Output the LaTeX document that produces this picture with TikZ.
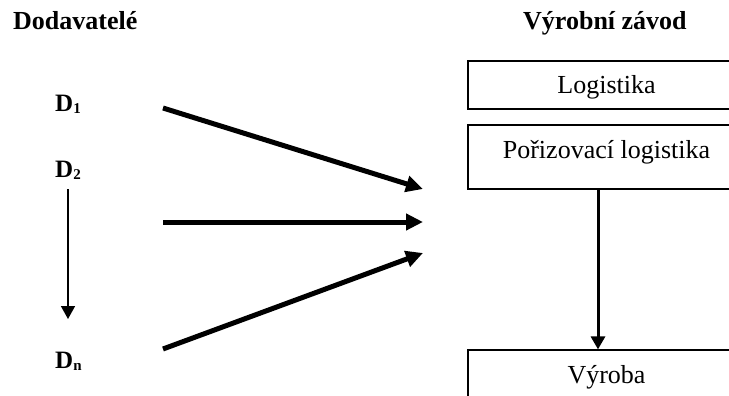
\documentclass[tikz,border=0pt]{standalone}
\usepackage{fontspec}
\setmainfont{Liberation Serif}
\usetikzlibrary{arrows.meta}
\newcommand{\subidx}[1]{\raisebox{-2pt}{\fontsize{15}{15}\selectfont #1}}
\begin{document}
\begin{tikzpicture}[x=1pt,y=-1pt,
  title/.style={font=\fontsize{26}{30}\selectfont\bfseries, anchor=base west, inner sep=0},
  supplier/.style={font=\fontsize{25}{30}\selectfont\bfseries, anchor=base west, inner sep=0},
  unit/.style={draw, line width=1.2pt, anchor=base, inner sep=0, minimum width=277pt,
    text height=33pt, font=\fontsize{26}{30}\selectfont},
  flow/.style={line width=5pt, -{Triangle[length=17pt,width=16pt]}},
  order/.style={line width=1.5pt, -{Triangle[length=13pt,width=14pt]}},
  inner/.style={line width=3pt, -{Triangle[length=13pt,width=14pt]}}]
\useasboundingbox (0,0) rectangle (729,396);

% column headings
\node[title] (hsup) at (13,30) {Dodavatelé};
\node[title] (hplant) at (523,30) {Výrobní závod};

% suppliers
\node[supplier] (d1) at (55,111) {D\subidx{1}};
\node[supplier] (d2) at (55,177) {D\subidx{2}};
\node[supplier] (dn) at (55,368) {D\subidx{n}};
\coordinate (o1) at (68,189);
\coordinate (o2) at (68,319);
\draw[order] (o1) -- (o2);

% plant units
\node[unit, text depth=15pt] (log) at (606.5,94) {Logistika};
\node[unit, text depth=31pt] (pl) at (606.5,158) {Pořizovací logistika};
\node[unit, text depth=20pt] (vy) at (606.5,383) {Výroba};
\coordinate (ax) at (598,0);
\draw[inner] (pl.south -| ax) -- (vy.north -| ax);

% material flows from suppliers to the plant
\coordinate (s1) at (163,108);
\coordinate (s2) at (163,222);
\coordinate (s3) at (163,349);
\coordinate (t1) at (423,189);
\coordinate (t2) at (423,222);
\coordinate (t3) at (423,253);
\draw[flow] (s1) -- (t1);
\draw[flow] (s2) -- (t2);
\draw[flow] (s3) -- (t3);
\end{tikzpicture}
\end{document}
